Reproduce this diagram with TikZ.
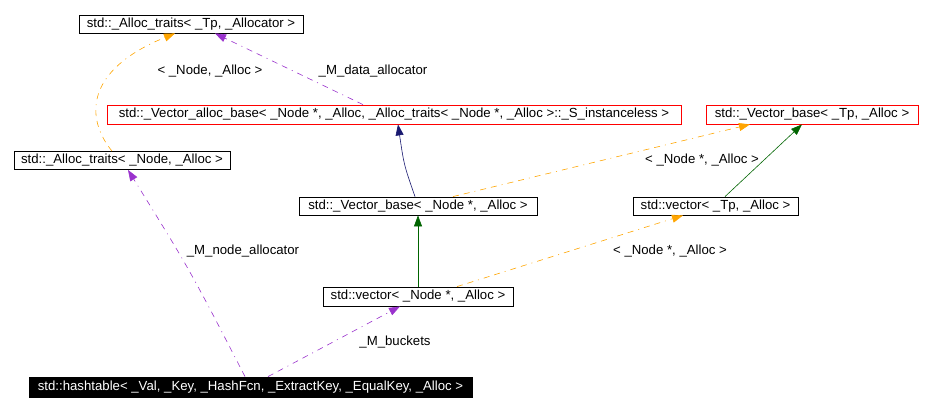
\documentclass[tikz,border=0pt]{standalone}
\usepackage{fontspec}
\setmainfont{Liberation Sans}
\usepackage{tikz}
\usetikzlibrary{arrows.meta}

\begin{document}
\begin{tikzpicture}[
    x=1pt, y=-1pt,
    cls/.style={draw, line width=0.8pt, inner sep=0pt, font=\fontsize{13.2}{15}\selectfont},
    redcls/.style={cls, draw=red},
    lbl/.style={font=\fontsize{13.2}{15}\selectfont, inner sep=0pt},
    tip/.style={-{Triangle[length=11pt,width=8pt]}},
    dsh/.style={dash pattern=on 6pt off 5pt on 6pt off 5pt on 1pt off 5pt},
    tmpl/.style={tip, dsh, draw={rgb,255:red,255;green,165;blue,0}, line width=0.6pt},
    use/.style={tip, dsh, draw={rgb,255:red,154;green,50;blue,205}, line width=0.6pt},
    inh/.style={tip, draw={rgb,255:red,0;green,100;blue,0}, line width=0.6pt},
    priv/.style={tip, draw={rgb,255:red,25;green,25;blue,112}, line width=0.6pt}
    ]
    \useasboundingbox (0,0) rectangle (932,411);
    \node[cls, minimum width=224pt, minimum height=18pt] (alloctp) at (191,24) {std::\_Alloc\_traits< \_Tp, \_Allocator >};
    \node[redcls, minimum width=574pt, minimum height=19pt] (vecalloc) at (394,114.5) {std::\_Vector\_alloc\_base< \_Node *, \_Alloc, \_Alloc\_traits< \_Node *, \_Alloc >::\_S\_instanceless >};
    \node[redcls, minimum width=212pt, minimum height=19pt] (vecbasetp) at (812,114.5) {std::\_Vector\_base< \_Tp, \_Alloc >};
    \node[cls, minimum width=216pt, minimum height=18pt] (allocnode) at (122,160.5) {std::\_Alloc\_traits< \_Node, \_Alloc >};
    \node[cls, minimum width=238pt, minimum height=18pt] (vecbasenode) at (418,206) {std::\_Vector\_base< \_Node *, \_Alloc >};
    \node[cls, minimum width=165pt, minimum height=18pt] (vectortp) at (715.5,206) {std::vector< \_Tp, \_Alloc >};
    \node[cls, minimum width=190pt, minimum height=19pt] (vectornode) at (418,296.5) {std::vector< \_Node *, \_Alloc >};
    \node[cls, fill=black, text=white, minimum width=443pt, minimum height=20pt] (hashtable) at (250.5,387) {std::hashtable< \_Val, \_Key, \_HashFcn, \_ExtractKey, \_EqualKey, \_Alloc >};
    \draw[tmpl] ([xshift=-10pt]allocnode.north) .. controls (85,118) and (85,70) .. ([xshift=-16pt]alloctp.south);
    \node[lbl] (l1) at (210,71) {< \_Node, \_Alloc >};
    \draw[use] ([xshift=-31pt]vecalloc.north) -- ([xshift=24pt]alloctp.south);
    \node[lbl] (l2) at (373,71) {\_M\_data\_allocator};
    \draw[priv] ([xshift=-3pt]vecbasenode.north) .. controls (404,165) .. ([xshift=4pt]vecalloc.south);
    \draw[tmpl] ([xshift=35pt]vecbasenode.north) -- ([xshift=-62pt]vecbasetp.south);
    \node[lbl] (l3) at (702,160) {< \_Node *, \_Alloc >};
    \draw[inh] ([xshift=9.5pt]vectortp.north) -- ([xshift=-10pt]vecbasetp.south);
    \draw[inh] (vectornode.north) -- (vecbasenode.south);
    \draw[tmpl] ([xshift=39pt]vectornode.north) -- ([xshift=-32.5pt]vectortp.south);
    \node[lbl] (l4) at (670,251) {< \_Node *, \_Alloc >};
    \draw[use] ([xshift=-5.5pt]hashtable.north) .. controls (190,270) .. ([xshift=6pt]allocnode.south);
    \node[lbl] (l5) at (243,251) {\_M\_node\_allocator};
    \draw[use] ([xshift=17.5pt]hashtable.north) -- ([xshift=-18pt]vectornode.south);
    \node[lbl] (l6) at (395,342) {\_M\_buckets};
\end{tikzpicture}
\end{document}
